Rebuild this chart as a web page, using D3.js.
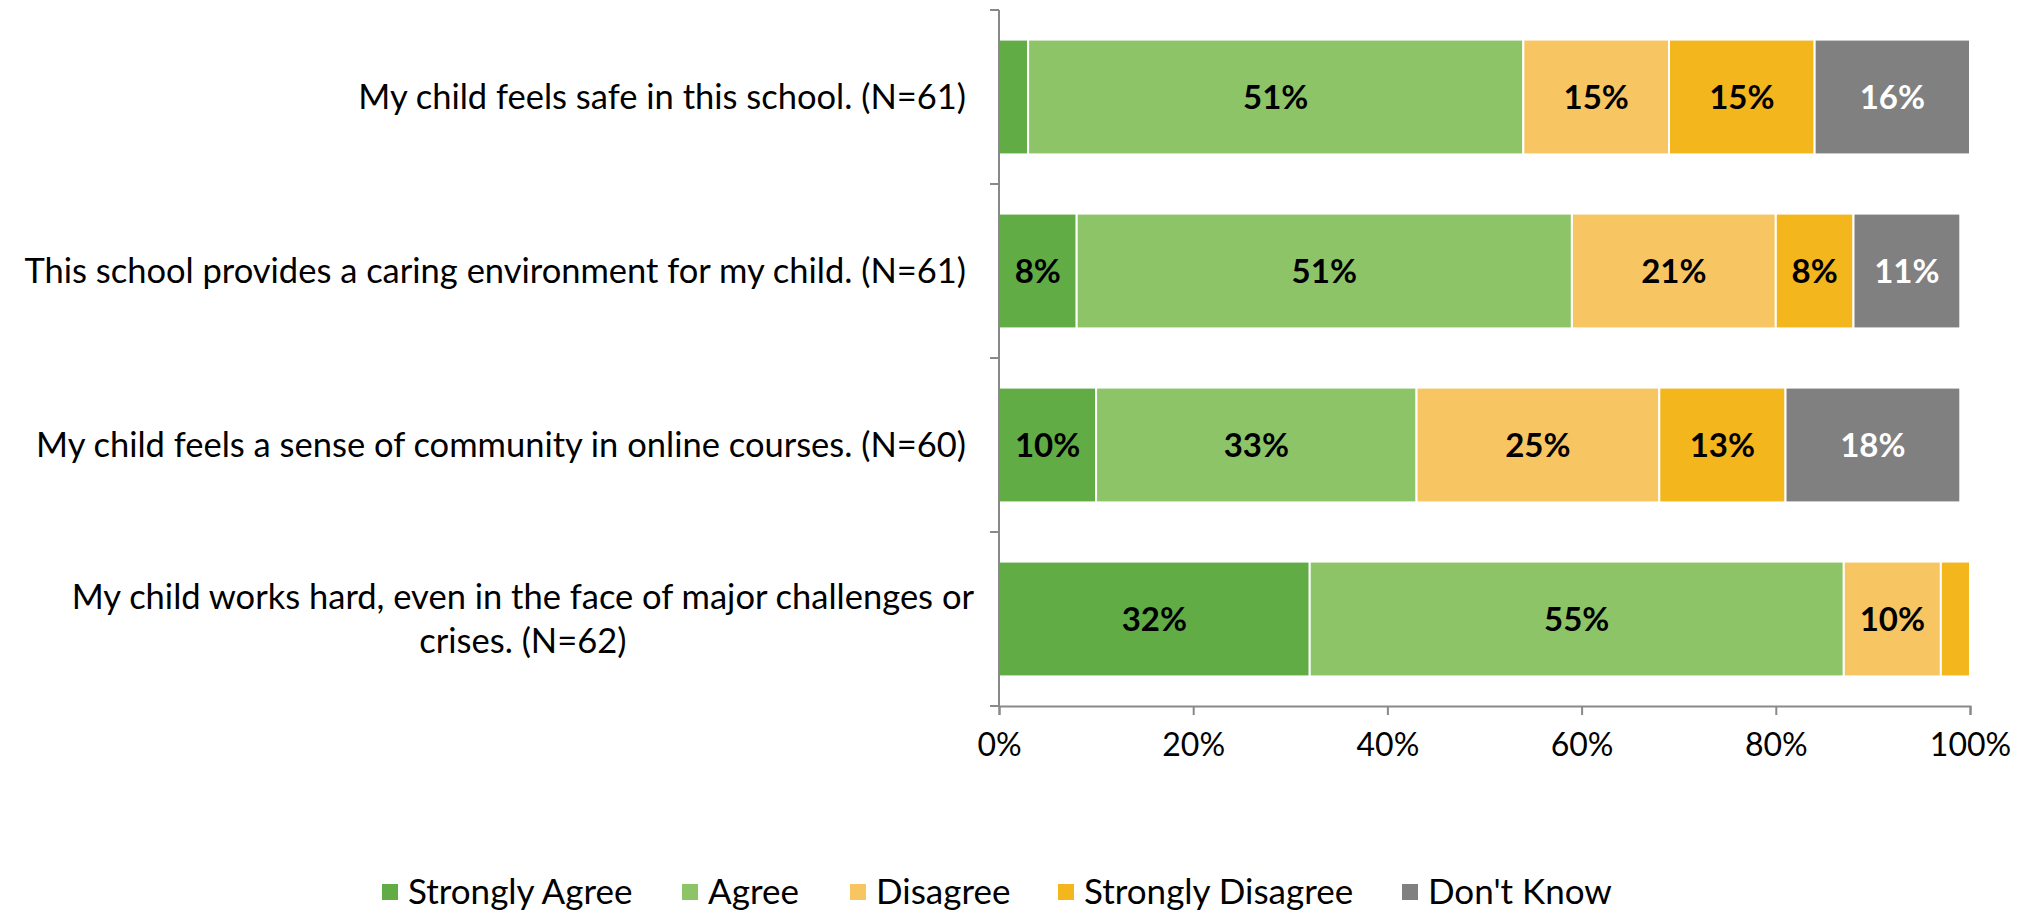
<!DOCTYPE html>
<html>
<head>
<meta charset="utf-8">
<script src="https://cdn.jsdelivr.net/npm/d3@7"></script>
<style>
  body { margin: 0; background: #fff; }
  text { font-family: Lato, "Noto Sans", sans-serif; }
</style>
</head>
<body>
<div id="chart"></div>
<script>
// questions, top to bottom
var questions = [
  ["My child feels safe in this school. (N=61)"],
  ["This school provides a caring environment for my child. (N=61)"],
  ["My child feels a sense of community in online courses. (N=60)"],
  ["My child works hard, even in the face of major challenges or", "crises. (N=62)"]
];
var responses = ["Strongly Agree", "Agree", "Disagree", "Strongly Disagree", "Don't Know"];
var colors = ["#62ac46", "#8ec468", "#f7c663", "#f3b61d", "#808080"];
var labelColors = ["#000", "#000", "#000", "#000", "#fff"];

// percent per response, one array per response, in question order
var stronglyAgree    = [3, 8, 10, 32];
var agree            = [51, 51, 33, 55];
var disagree         = [15, 21, 25, 10];
var stronglyDisagree = [15, 8, 13, 3];
var dontKnow         = [16, 11, 18, 0];

var xTicks = [0, 20, 40, 60, 80, 100];

(function() {
  var W = 2030, H = 911;
  var plotL = 999, plotR = 1970, plotT = 10, plotB = 706;
  var axisColor = "#898989";
  var fontSize = 35;

  var rows = questions.map(function(q, i) {
    return {
      key: i,
      "Strongly Agree": stronglyAgree[i],
      "Agree": agree[i],
      "Disagree": disagree[i],
      "Strongly Disagree": stronglyDisagree[i],
      "Don't Know": dontKnow[i]
    };
  });

  var svg = d3.select("#chart").append("svg")
    .attr("width", W).attr("height", H);

  var x = d3.scaleLinear().domain([0, 100]).range([plotL, plotR]);
  var y = d3.scaleBand().domain(d3.range(questions.length))
    .range([plotT, plotB]).paddingInner(0.34).paddingOuter(0.17);

  var series = d3.stack().keys(responses)(rows);

  var layers = svg.append("g").selectAll("g")
    .data(series)
    .enter().append("g")
    .attr("fill", function(d, i) { return colors[i]; });

  layers.selectAll("rect")
    .data(function(d) { return d; })
    .enter().append("rect")
    .attr("x", function(d) { return x(d[0]); })
    .attr("y", function(d) { return y(d.data.key); })
    .attr("width", function(d) { return x(d[1]) - x(d[0]); })
    .attr("height", y.bandwidth())
    .attr("stroke", "#fff")
    .attr("stroke-width", 2);

  // value labels (tiny slices are left unlabeled, as in the source)
  layers.each(function(s, i) {
    d3.select(this).selectAll("text")
      .data(s.filter(function(d) { return d[1] - d[0] >= 5; }))
      .enter().append("text")
      .attr("x", function(d) { return (x(d[0]) + x(d[1])) / 2; })
      .attr("y", function(d) { return y(d.data.key) + y.bandwidth() / 2; })
      .attr("dy", "0.35em")
      .attr("text-anchor", "middle")
      .attr("fill", labelColors[i])
      .attr("font-size", 33)
      .attr("font-weight", "bold")
      .text(function(d) { return Math.round(d[1] - d[0]) + "%"; });
  });

  // y axis
  var yTicks = d3.range(questions.length + 1).map(function(i) {
    return plotT + i * (plotB - plotT) / questions.length;
  });
  svg.append("line")
    .attr("x1", plotL).attr("x2", plotL).attr("y1", plotT).attr("y2", plotB)
    .attr("stroke", axisColor).attr("stroke-width", 2);
  svg.append("g").selectAll("line").data(yTicks).enter().append("line")
    .attr("x1", plotL - 9).attr("x2", plotL)
    .attr("y1", function(d) { return d; }).attr("y2", function(d) { return d; })
    .attr("stroke", axisColor).attr("stroke-width", 2);

  // x axis
  var xAxis = svg.append("g")
    .attr("transform", "translate(0," + plotB + ")")
    .call(d3.axisBottom(x).tickValues(xTicks).tickSize(9).tickPadding(18)
      .tickFormat(function(d) { return d + "%"; }));
  xAxis.select(".domain").attr("stroke", axisColor).attr("stroke-width", 2);
  xAxis.selectAll(".tick line").attr("stroke", axisColor).attr("stroke-width", 2);
  xAxis.selectAll(".tick text").attr("font-size", 32).attr("fill", "#000")
    .style("font-family", "Lato, 'Noto Sans', sans-serif");

  // category labels
  var labelRight = 966;
  var lineH = 44;
  questions.forEach(function(lines, i) {
    var cy = y(i) + y.bandwidth() / 2;
    var g = svg.append("g");
    var texts = lines.map(function(t, j) {
      return g.append("text")
        .attr("y", cy + (j - (lines.length - 1) / 2) * lineH)
        .attr("dy", "0.35em")
        .attr("font-size", 34.5)
        .attr("fill", "#000")
        .attr("text-anchor", "middle")
        .text(t);
    });
    var maxW = d3.max(texts, function(t) { return t.node().getComputedTextLength(); });
    var right = lines.length > 1 ? labelRight + 8 : labelRight;
    texts.forEach(function(t) { t.attr("x", right - maxW / 2); });
  });

  // legend
  var legendX = [382, 682, 850, 1058, 1402];
  var legendY = 892;
  var legend = svg.append("g").selectAll("g")
    .data(responses).enter().append("g")
    .attr("transform", function(d, i) { return "translate(" + legendX[i] + "," + legendY + ")"; });
  legend.append("rect")
    .attr("x", 0).attr("y", -8).attr("width", 16).attr("height", 16)
    .attr("fill", function(d, i) { return colors[i]; });
  legend.append("text")
    .attr("x", 26).attr("dy", "0.35em")
    .attr("font-size", fontSize).attr("fill", "#000")
    .text(function(d) { return d; });
})();
</script>
</body>
</html>
